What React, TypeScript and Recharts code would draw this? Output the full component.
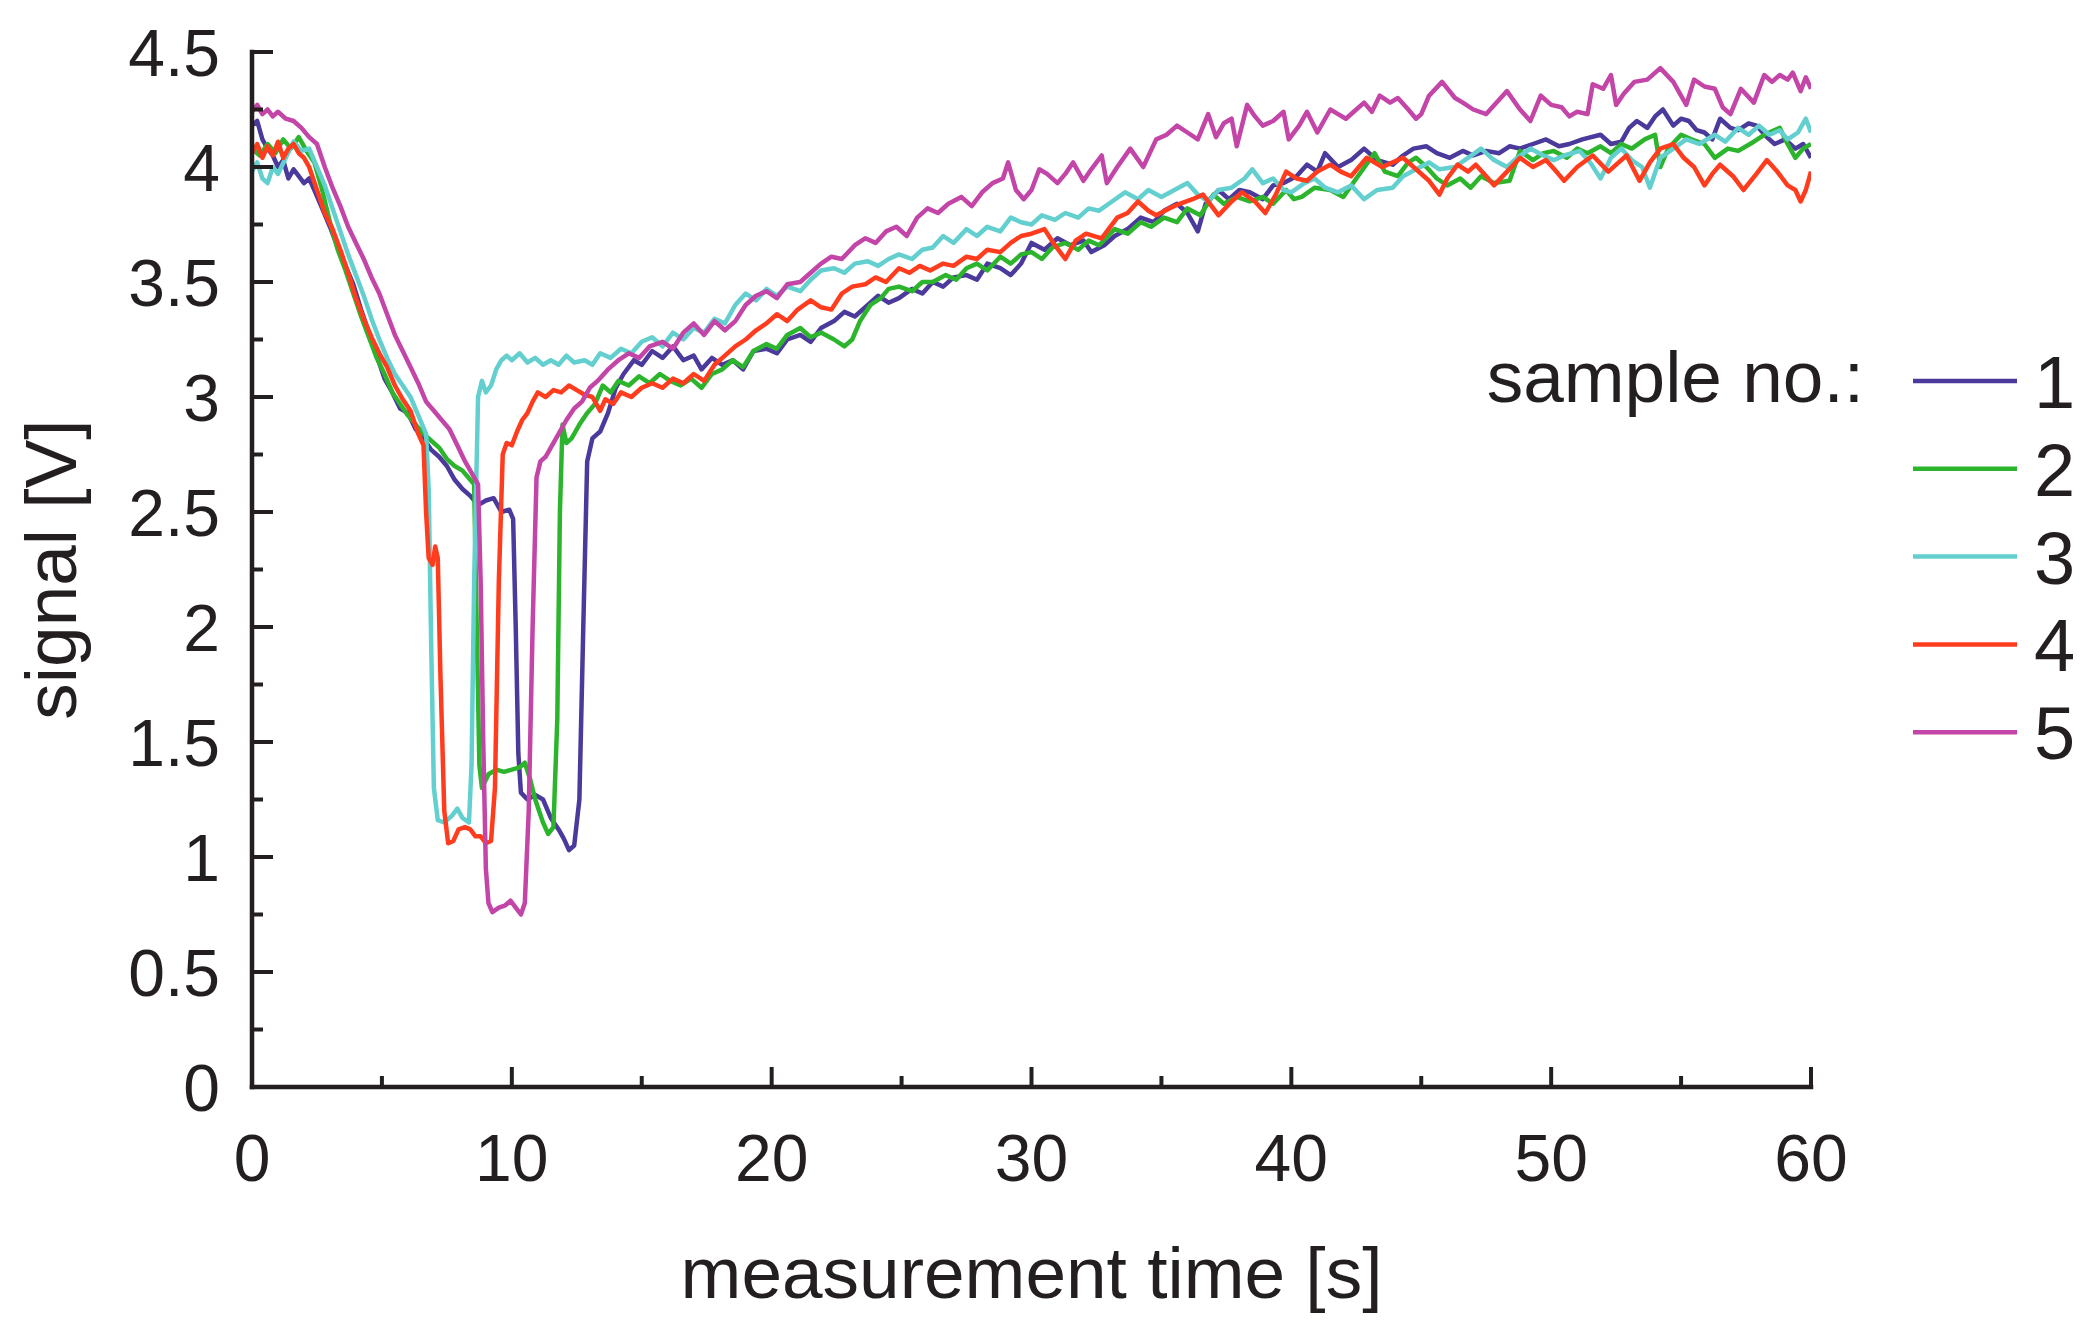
import React from "react";
import { LineChart, Line, XAxis, YAxis, Legend } from "recharts";

// [time s, signal V]
const sample1: [number, number][] = [
  [0, 4.18], [0.2, 4.2], [0.4, 4.12], [0.6, 4.08], [0.8, 4.05], [1.0, 4.0], [1.2, 4.03], [1.4, 3.95],
  [1.6, 3.99], [1.8, 3.96], [2.0, 3.93], [2.2, 3.95], [2.4, 3.9], [2.7, 3.82], [3.0, 3.74], [3.3, 3.65],
  [3.6, 3.57], [3.9, 3.49], [4.2, 3.38], [4.5, 3.28], [4.8, 3.18], [5.1, 3.08], [5.4, 3.02], [5.7, 2.95],
  [6.0, 2.93], [6.3, 2.86], [6.6, 2.82], [6.9, 2.77], [7.2, 2.74], [7.5, 2.7], [7.8, 2.64], [8.1, 2.6],
  [8.4, 2.57], [8.7, 2.53], [9.0, 2.55], [9.3, 2.56], [9.6, 2.5], [9.9, 2.51], [10.05, 2.47], [10.15, 2.0],
  [10.25, 1.45], [10.35, 1.28], [10.6, 1.25], [10.9, 1.27], [11.2, 1.25], [11.5, 1.17], [11.8, 1.12],
  [12.0, 1.08], [12.2, 1.03], [12.4, 1.05], [12.6, 1.25], [12.75, 2.0], [12.9, 2.72], [13.1, 2.82],
  [13.4, 2.85], [13.7, 2.93], [14.0, 3.04], [14.3, 3.1], [14.7, 3.16], [15.0, 3.14], [15.4, 3.2],
  [15.8, 3.17], [16.2, 3.22], [16.6, 3.16], [17.0, 3.18], [17.3, 3.12], [17.7, 3.17], [18.1, 3.14],
  [18.5, 3.16], [18.9, 3.12], [19.3, 3.2], [19.8, 3.21], [20.2, 3.19], [20.6, 3.25], [21.1, 3.27],
  [21.5, 3.24], [21.9, 3.3], [22.4, 3.33], [22.8, 3.37], [23.2, 3.35], [23.7, 3.4], [24.1, 3.44],
  [24.5, 3.41], [24.9, 3.43], [25.4, 3.47], [25.8, 3.45], [26.2, 3.5], [26.6, 3.48], [27.0, 3.52],
  [27.5, 3.53], [27.9, 3.51], [28.3, 3.58], [28.8, 3.56], [29.2, 3.53], [29.6, 3.58], [30.0, 3.67],
  [30.5, 3.64], [31.0, 3.69], [31.5, 3.66], [32.0, 3.68], [32.3, 3.63], [32.8, 3.66], [33.2, 3.7],
  [33.7, 3.73], [34.2, 3.78], [34.7, 3.76], [35.1, 3.81], [35.6, 3.84], [36.0, 3.8], [36.4, 3.72],
  [36.7, 3.84], [37.2, 3.9], [37.6, 3.86], [38.0, 3.9], [38.4, 3.89], [38.9, 3.86], [39.3, 3.92],
  [39.7, 3.93], [40.2, 3.96], [40.6, 4.01], [41.0, 3.98], [41.3, 4.06], [41.8, 4.0], [42.3, 4.03],
  [42.8, 4.08], [43.3, 4.03], [43.9, 4.01], [44.3, 4.05], [44.7, 4.08], [45.2, 4.09], [45.6, 4.06],
  [46.1, 4.04], [46.6, 4.07], [47.0, 4.05], [47.5, 4.07], [48.0, 4.06], [48.4, 4.09], [48.8, 4.08],
  [49.3, 4.1], [49.8, 4.12], [50.3, 4.09], [50.7, 4.1], [51.2, 4.12], [51.9, 4.14], [52.3, 4.1],
  [52.7, 4.11], [53.0, 4.17], [53.3, 4.2], [53.7, 4.17], [54.0, 4.22], [54.3, 4.25], [54.7, 4.18],
  [55.0, 4.21], [55.3, 4.2], [55.6, 4.16], [55.9, 4.15], [56.2, 4.12], [56.5, 4.21], [56.9, 4.17],
  [57.2, 4.16], [57.6, 4.19], [57.9, 4.18], [58.3, 4.13], [58.6, 4.1], [59.0, 4.12], [59.4, 4.08],
  [59.7, 4.1], [60.0, 4.04],
];

const sample2: [number, number][] = [
  [0, 4.08], [0.3, 4.05], [0.6, 4.1], [0.9, 4.06], [1.2, 4.12], [1.5, 4.08], [1.8, 4.13], [2.1, 4.07],
  [2.4, 4.02], [2.7, 3.9], [3.0, 3.76], [3.3, 3.64], [3.6, 3.55], [3.9, 3.45], [4.2, 3.35], [4.5, 3.26],
  [4.8, 3.17], [5.1, 3.1], [5.4, 3.02], [5.7, 2.97], [6.0, 2.92], [6.3, 2.88], [6.6, 2.84], [6.9, 2.81],
  [7.2, 2.78], [7.5, 2.73], [7.8, 2.7], [8.1, 2.68], [8.4, 2.64], [8.55, 2.62], [8.65, 2.0], [8.75, 1.4],
  [8.85, 1.3], [9.1, 1.36], [9.4, 1.38], [9.7, 1.37], [10.0, 1.38], [10.3, 1.39], [10.5, 1.41],
  [10.7, 1.34], [10.9, 1.25], [11.2, 1.15], [11.4, 1.1], [11.6, 1.13], [11.75, 1.6], [11.85, 2.5],
  [11.95, 2.88], [12.1, 2.8], [12.3, 2.82], [12.6, 2.88], [12.9, 2.93], [13.2, 2.97], [13.5, 3.05],
  [13.8, 3.02], [14.1, 3.07], [14.5, 3.05], [14.9, 3.09], [15.3, 3.06], [15.7, 3.1], [16.1, 3.07],
  [16.5, 3.05], [16.9, 3.08], [17.3, 3.04], [17.7, 3.1], [18.1, 3.12], [18.5, 3.16], [18.9, 3.13],
  [19.3, 3.2], [19.8, 3.23], [20.2, 3.21], [20.6, 3.27], [21.1, 3.3], [21.5, 3.26], [21.9, 3.28],
  [22.4, 3.25], [22.8, 3.22], [23.1, 3.25], [23.4, 3.33], [23.8, 3.4], [24.2, 3.43], [24.5, 3.47],
  [24.9, 3.48], [25.4, 3.46], [25.8, 3.5], [26.2, 3.5], [26.7, 3.53], [27.1, 3.51], [27.5, 3.56],
  [27.9, 3.58], [28.3, 3.55], [28.8, 3.61], [29.2, 3.58], [29.6, 3.62], [30.0, 3.63], [30.4, 3.6],
  [30.8, 3.65], [31.3, 3.67], [31.8, 3.64], [32.2, 3.68], [32.6, 3.66], [33.2, 3.73], [33.7, 3.71],
  [34.2, 3.76], [34.6, 3.74], [35.1, 3.78], [35.6, 3.76], [36.0, 3.82], [36.5, 3.79], [37.0, 3.88],
  [37.4, 3.84], [37.9, 3.87], [38.4, 3.85], [38.9, 3.87], [39.3, 3.84], [39.8, 3.9], [40.1, 3.86],
  [40.4, 3.87], [40.9, 3.91], [41.5, 3.9], [42.0, 3.87], [42.5, 3.95], [43.2, 4.06], [43.6, 3.98],
  [44.1, 3.96], [44.5, 4.02], [44.8, 4.04], [45.2, 4.0], [45.6, 3.95], [46.0, 3.92], [46.5, 3.95],
  [46.9, 3.91], [47.3, 3.96], [47.8, 3.93], [48.4, 3.94], [48.8, 4.07], [49.3, 4.03], [49.7, 4.06],
  [50.1, 4.07], [50.6, 4.04], [51.0, 4.08], [51.4, 4.06], [51.9, 4.09], [52.3, 4.06], [52.7, 4.1],
  [53.1, 4.08], [53.6, 4.12], [54.0, 4.14], [54.2, 4.0], [54.5, 4.08], [55.0, 4.14], [55.4, 4.12],
  [55.9, 4.1], [56.3, 4.04], [56.8, 4.08], [57.2, 4.07], [57.8, 4.11], [58.2, 4.14], [58.8, 4.17],
  [59.1, 4.1], [59.4, 4.04], [59.7, 4.08], [60.0, 4.1],
];

const sample3: [number, number][] = [
  [0, 3.98], [0.2, 4.02], [0.4, 3.95], [0.6, 3.93], [0.8, 4.0], [1.0, 3.97], [1.3, 4.04], [1.6, 4.11],
  [1.9, 4.07], [2.2, 4.08], [2.5, 4.0], [2.8, 3.92], [3.1, 3.82], [3.4, 3.72], [3.7, 3.62], [4.0, 3.53],
  [4.3, 3.44], [4.6, 3.34], [4.9, 3.25], [5.2, 3.17], [5.5, 3.1], [5.8, 3.05], [6.1, 3.0], [6.4, 2.92],
  [6.7, 2.84], [6.8, 2.6], [6.9, 1.9], [7.0, 1.3], [7.15, 1.16], [7.4, 1.15], [7.7, 1.18], [7.9, 1.21],
  [8.1, 1.17], [8.35, 1.15], [8.45, 1.4], [8.55, 2.2], [8.7, 3.0], [8.85, 3.07], [9.0, 3.02], [9.2, 3.05],
  [9.4, 3.12], [9.6, 3.16], [9.8, 3.18], [10.0, 3.16], [10.3, 3.19], [10.6, 3.15], [10.9, 3.17],
  [11.2, 3.14], [11.5, 3.16], [11.8, 3.14], [12.1, 3.18], [12.4, 3.15], [12.8, 3.16], [13.1, 3.14],
  [13.4, 3.19], [13.8, 3.17], [14.2, 3.21], [14.6, 3.19], [15.0, 3.24], [15.4, 3.26], [15.8, 3.22],
  [16.2, 3.28], [16.6, 3.25], [17.0, 3.3], [17.4, 3.28], [17.8, 3.34], [18.2, 3.32], [18.6, 3.4],
  [19.0, 3.45], [19.4, 3.42], [19.8, 3.47], [20.2, 3.44], [20.6, 3.48], [21.1, 3.46], [21.5, 3.51],
  [21.9, 3.55], [22.4, 3.56], [22.8, 3.54], [23.2, 3.58], [23.7, 3.59], [24.1, 3.57], [24.5, 3.6],
  [24.9, 3.62], [25.4, 3.6], [25.8, 3.64], [26.2, 3.65], [26.6, 3.7], [27.0, 3.67], [27.5, 3.73],
  [27.9, 3.7], [28.3, 3.74], [28.8, 3.72], [29.2, 3.78], [29.6, 3.76], [30.0, 3.75], [30.4, 3.79],
  [30.9, 3.77], [31.3, 3.8], [31.8, 3.78], [32.2, 3.82], [32.6, 3.81], [33.1, 3.85], [33.6, 3.89],
  [34.1, 3.86], [34.5, 3.9], [35.0, 3.87], [35.5, 3.9], [36.0, 3.93], [36.4, 3.88], [36.8, 3.85],
  [37.2, 3.9], [37.7, 3.91], [38.2, 3.95], [38.5, 3.99], [38.9, 3.93], [39.3, 3.95], [39.7, 3.9],
  [40.0, 3.89], [40.5, 3.93], [40.9, 3.95], [41.3, 3.91], [41.8, 3.89], [42.3, 3.92], [42.8, 3.86],
  [43.3, 3.9], [43.9, 3.91], [44.3, 3.96], [44.8, 3.99], [45.3, 4.02], [45.7, 3.99], [46.3, 4.0],
  [46.8, 4.04], [47.3, 4.08], [47.8, 4.03], [48.3, 4.0], [48.7, 4.04], [49.2, 4.08], [49.7, 4.05],
  [50.1, 4.03], [50.5, 4.05], [51.1, 4.07], [51.5, 4.02], [51.9, 3.95], [52.3, 4.04], [52.7, 4.08],
  [53.1, 4.03], [53.5, 4.0], [53.8, 3.91], [54.2, 4.04], [54.7, 4.08], [55.2, 4.12], [55.7, 4.1],
  [56.3, 4.14], [56.7, 4.11], [57.2, 4.17], [57.6, 4.14], [58.0, 4.18], [58.4, 4.14], [58.8, 4.16],
  [59.1, 4.12], [59.5, 4.15], [59.8, 4.21], [60.0, 4.15],
];

const sample4: [number, number][] = [
  [0, 4.06], [0.2, 4.1], [0.4, 4.04], [0.6, 4.09], [0.8, 4.05], [1.0, 4.11], [1.2, 4.04], [1.4, 4.08],
  [1.6, 4.1], [1.8, 4.06], [2.0, 4.04], [2.2, 4.0], [2.5, 3.9], [2.8, 3.8], [3.1, 3.73], [3.4, 3.64],
  [3.7, 3.54], [4.0, 3.43], [4.3, 3.34], [4.6, 3.26], [4.9, 3.19], [5.2, 3.13], [5.5, 3.05], [5.8, 2.99],
  [6.1, 2.94], [6.4, 2.84], [6.6, 2.79], [6.7, 2.5], [6.8, 2.3], [6.95, 2.27], [7.05, 2.35], [7.15, 2.3],
  [7.25, 1.8], [7.4, 1.2], [7.55, 1.06], [7.75, 1.07], [7.95, 1.12], [8.2, 1.13], [8.4, 1.12], [8.6, 1.09],
  [8.8, 1.09], [9.0, 1.06], [9.2, 1.07], [9.35, 1.3], [9.5, 2.2], [9.65, 2.75], [9.8, 2.8], [10.0, 2.79],
  [10.2, 2.85], [10.4, 2.9], [10.6, 2.93], [10.8, 2.98], [11.0, 3.02], [11.3, 3.0], [11.6, 3.03],
  [11.9, 3.02], [12.2, 3.05], [12.5, 3.03], [12.8, 3.01], [13.1, 3.0], [13.4, 2.94], [13.6, 2.99],
  [13.9, 2.97], [14.2, 3.02], [14.6, 3.0], [15.0, 3.04], [15.4, 3.06], [15.8, 3.04], [16.2, 3.08],
  [16.6, 3.06], [17.0, 3.1], [17.4, 3.07], [17.8, 3.14], [18.2, 3.18], [18.6, 3.22], [19.0, 3.25],
  [19.4, 3.29], [19.8, 3.32], [20.2, 3.36], [20.6, 3.33], [21.0, 3.38], [21.5, 3.42], [21.9, 3.39],
  [22.3, 3.38], [22.7, 3.45], [23.1, 3.48], [23.6, 3.49], [24.0, 3.52], [24.4, 3.5], [24.9, 3.56],
  [25.3, 3.54], [25.7, 3.57], [26.1, 3.55], [26.6, 3.58], [27.0, 3.57], [27.5, 3.61], [27.9, 3.6],
  [28.3, 3.64], [28.8, 3.63], [29.2, 3.67], [29.6, 3.7], [30.0, 3.71], [30.5, 3.73], [30.9, 3.66],
  [31.3, 3.6], [31.7, 3.68], [32.1, 3.71], [32.7, 3.69], [33.3, 3.78], [33.7, 3.8], [34.1, 3.85],
  [34.5, 3.81], [34.8, 3.79], [35.3, 3.82], [35.7, 3.84], [36.2, 3.86], [36.6, 3.88], [37.2, 3.79],
  [37.7, 3.85], [38.1, 3.89], [38.6, 3.85], [39.0, 3.8], [39.4, 3.88], [39.8, 3.98], [40.2, 3.95],
  [40.6, 3.94], [41.0, 3.98], [41.5, 4.01], [41.9, 3.98], [42.3, 3.96], [42.9, 4.04], [43.5, 4.0],
  [43.9, 4.02], [44.3, 4.04], [44.8, 3.99], [45.3, 3.94], [45.7, 3.88], [46.0, 3.95], [46.4, 4.01],
  [46.8, 3.98], [47.1, 4.01], [47.5, 3.96], [47.8, 3.92], [48.3, 3.98], [48.8, 4.04], [49.3, 4.0],
  [49.8, 4.03], [50.2, 3.98], [50.5, 3.94], [51.0, 4.0], [51.6, 4.05], [52.2, 3.98], [52.6, 4.02],
  [52.9, 4.05], [53.4, 3.94], [53.8, 4.02], [54.2, 4.08], [54.7, 4.1], [55.1, 4.04], [55.5, 4.0],
  [55.9, 3.92], [56.2, 3.97], [56.5, 4.01], [57.0, 3.96], [57.4, 3.9], [57.9, 3.97], [58.3, 4.03],
  [58.7, 3.98], [59.1, 3.92], [59.4, 3.9], [59.6, 3.85], [59.8, 3.9], [60.0, 3.98],
];

const sample5: [number, number][] = [
  [0, 4.24], [0.2, 4.27], [0.4, 4.23], [0.6, 4.25], [0.8, 4.22], [1.0, 4.24], [1.3, 4.21], [1.6, 4.2],
  [1.9, 4.17], [2.2, 4.13], [2.5, 4.1], [2.8, 4.0], [3.1, 3.91], [3.4, 3.83], [3.7, 3.74], [4.0, 3.67],
  [4.3, 3.6], [4.6, 3.52], [4.9, 3.45], [5.2, 3.36], [5.5, 3.27], [5.8, 3.2], [6.1, 3.13], [6.4, 3.06],
  [6.7, 2.98], [7.0, 2.94], [7.3, 2.9], [7.6, 2.86], [7.9, 2.79], [8.2, 2.72], [8.5, 2.66], [8.7, 2.62],
  [8.8, 2.2], [8.9, 1.5], [9.0, 0.95], [9.1, 0.8], [9.25, 0.76], [9.5, 0.78], [9.75, 0.79], [9.95, 0.81],
  [10.15, 0.78], [10.35, 0.75], [10.5, 0.8], [10.65, 1.2], [10.8, 2.0], [10.95, 2.65], [11.1, 2.72],
  [11.3, 2.74], [11.5, 2.78], [11.8, 2.84], [12.1, 2.9], [12.4, 2.95], [12.7, 2.98], [13.0, 3.04],
  [13.3, 3.07], [13.7, 3.12], [14.1, 3.16], [14.5, 3.19], [14.9, 3.17], [15.3, 3.22], [15.8, 3.24],
  [16.2, 3.21], [16.6, 3.28], [17.0, 3.32], [17.4, 3.27], [17.8, 3.33], [18.2, 3.29], [18.6, 3.33],
  [19.0, 3.4], [19.4, 3.44], [19.8, 3.46], [20.2, 3.43], [20.6, 3.49], [21.1, 3.5], [21.5, 3.54],
  [21.9, 3.58], [22.3, 3.61], [22.7, 3.6], [23.2, 3.66], [23.6, 3.69], [24.0, 3.67], [24.4, 3.72],
  [24.8, 3.74], [25.2, 3.7], [25.6, 3.78], [26.0, 3.82], [26.4, 3.8], [26.8, 3.84], [27.3, 3.87],
  [27.7, 3.83], [28.1, 3.89], [28.5, 3.93], [28.9, 3.95], [29.1, 4.02], [29.4, 3.9], [29.7, 3.86],
  [30.0, 3.9], [30.3, 3.99], [30.6, 3.97], [31.0, 3.93], [31.3, 3.97], [31.6, 4.02], [32.0, 3.94],
  [32.3, 3.99], [32.7, 4.05], [32.9, 3.93], [33.3, 4.0], [33.8, 4.08], [34.3, 4.0], [34.8, 4.12],
  [35.2, 4.14], [35.6, 4.18], [36.0, 4.15], [36.4, 4.12], [36.8, 4.23], [37.1, 4.13], [37.4, 4.19],
  [37.7, 4.21], [37.9, 4.09], [38.3, 4.27], [38.6, 4.22], [38.9, 4.18], [39.3, 4.2], [39.7, 4.24],
  [39.9, 4.12], [40.3, 4.18], [40.6, 4.24], [41.0, 4.15], [41.5, 4.25], [41.8, 4.23], [42.1, 4.21],
  [42.5, 4.25], [42.8, 4.28], [43.1, 4.24], [43.4, 4.31], [43.8, 4.28], [44.1, 4.3], [44.5, 4.25],
  [44.8, 4.21], [45.0, 4.23], [45.3, 4.31], [45.8, 4.37], [46.3, 4.3], [46.6, 4.28], [47.0, 4.25],
  [47.5, 4.23], [47.9, 4.28], [48.3, 4.33], [48.8, 4.25], [49.2, 4.2], [49.6, 4.31], [50.0, 4.27],
  [50.4, 4.26], [50.7, 4.22], [51.0, 4.24], [51.4, 4.23], [51.6, 4.36], [52.0, 4.34], [52.3, 4.4],
  [52.5, 4.27], [52.8, 4.32], [53.2, 4.37], [53.7, 4.38], [54.2, 4.43], [54.7, 4.37], [55.2, 4.27],
  [55.5, 4.38], [55.9, 4.35], [56.3, 4.34], [56.6, 4.26], [56.9, 4.23], [57.3, 4.34], [57.8, 4.28],
  [58.2, 4.4], [58.5, 4.37], [58.8, 4.4], [59.1, 4.38], [59.3, 4.41], [59.6, 4.33], [59.8, 4.39],
  [60.0, 4.34],
];

const SAMPLE_NAMES = ["1", "2", "3", "4", "5"];
const SAMPLE_COLORS = ["#4b3a9c", "#2cb52c", "#63cfcf", "#ff3c1e", "#c245a7"];
const SAMPLES = [sample1, sample2, sample3, sample4, sample5];

const X_TICKS = [0, 5, 10, 15, 20, 25, 30, 35, 40, 45, 50, 55, 60];
const Y_TICKS = [0, 0.25, 0.5, 0.75, 1, 1.25, 1.5, 1.75, 2, 2.25, 2.5, 2.75, 3, 3.25, 3.5, 3.75, 4, 4.25, 4.5];

const INK = "#231f20";
const FONT = "'Liberation Sans', Arial, Helvetica, sans-serif";

const W = 2098;
const H = 1341;

function YTick(props: any) {
  const { x, y, payload } = props;
  const v = payload.value as number;
  const major = Math.abs(v * 2 - Math.round(v * 2)) < 1e-6;
  return (
    <g>
      <line x1={x} y1={y} x2={x + (major ? 21 : 11)} y2={y} stroke={INK} strokeWidth={4} />
      {major && (
        <text x={x - 32} y={y} dy="0.36em" textAnchor="end" fontSize={66} fontFamily={FONT} fill={INK}>
          {String(v)}
        </text>
      )}
    </g>
  );
}

function XTick(props: any) {
  const { x, y, payload } = props;
  const v = payload.value as number;
  const major = v % 10 === 0;
  return (
    <g>
      <line x1={x} y1={y} x2={x} y2={y - (major ? 20 : 11)} stroke={INK} strokeWidth={4} />
      {major && (
        <text x={x} y={y + 94} textAnchor="middle" fontSize={66} fontFamily={FONT} fill={INK}>
          {String(v)}
        </text>
      )}
    </g>
  );
}

function renderXTitle(props: any) {
  const vb = props.viewBox;
  return (
    <text x={vb.x + vb.width / 2} y={vb.y + 211} textAnchor="middle" fontSize={73} fontFamily={FONT} fill={INK}>
      measurement time [s]
    </text>
  );
}

function renderYTitle(props: any) {
  const vb = props.viewBox;
  const cx = vb.x - 98;
  const cy = vb.y + vb.height / 2;
  return (
    <text
      x={cx}
      y={cy}
      dy="0.3em"
      textAnchor="middle"
      transform={`rotate(-90, ${cx}, ${cy})`}
      fontSize={73}
      fontFamily={FONT}
      fill={INK}
    >
      signal [V]
    </text>
  );
}

function SampleLegend(props: any) {
  const items = (props.payload || []) as { value: string; color: string }[];
  return (
    <svg width={610} height={440} style={{ display: "block", overflow: "visible" }}>
      <text x={376} y={72} textAnchor="end" fontSize={73} fontFamily={FONT} fill={INK}>
        sample no.:
      </text>
      {items.map((it, i) => {
        const y = 51 + i * 87.8;
        return (
          <g key={it.value}>
            <line x1={425} y1={y} x2={529} y2={y} stroke={it.color} strokeWidth={4.5} />
            <text x={546} y={y + 27} fontSize={74} fontFamily={FONT} fill={INK}>
              {it.value}
            </text>
          </g>
        );
      })}
    </svg>
  );
}

export default function App() {
  const series = SAMPLES.map((s) => s.map(([t, v]) => ({ t, v })));
  return (
    <div style={{ position: "absolute", left: 0, top: 0, width: W, height: H, background: "#fff" }}>
      <LineChart width={W} height={H} margin={{ top: 52, right: 287, bottom: 0, left: 152 }}>
        <XAxis
          dataKey="t"
          type="number"
          domain={[0, 60]}
          ticks={X_TICKS}
          interval={0}
          height={254}
          tickSize={0}
          tickMargin={0}
          tickLine={false}
          tick={<XTick />}
          axisLine={{ stroke: INK, strokeWidth: 4.5, strokeLinecap: "square" }}
          allowDataOverflow
          label={renderXTitle}
        />
        <YAxis
          type="number"
          domain={[0, 4.5]}
          ticks={Y_TICKS}
          interval={0}
          width={100}
          tickSize={0}
          tickMargin={0}
          tickLine={false}
          tick={<YTick />}
          axisLine={{ stroke: INK, strokeWidth: 4.5, strokeLinecap: "square" }}
          allowDataOverflow
          label={renderYTitle}
        />
        <Legend
          layout="vertical"
          align="center"
          verticalAlign="middle"
          content={<SampleLegend />}
          wrapperStyle={{ left: 1488, top: 330, width: 610, height: 440 }}
        />
        {series.map((d, i) => (
          <Line
            key={SAMPLE_NAMES[i]}
            data={d}
            dataKey="v"
            name={SAMPLE_NAMES[i]}
            type="linear"
            stroke={SAMPLE_COLORS[i]}
            strokeWidth={4.5}
            strokeLinejoin="round"
            dot={false}
            activeDot={false}
            isAnimationActive={false}
          />
        ))}
      </LineChart>
    </div>
  );
}
